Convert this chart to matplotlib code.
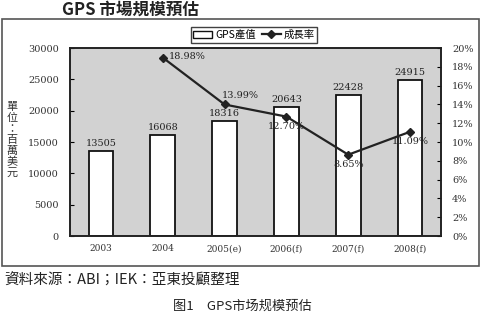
import matplotlib
matplotlib.use("Agg")
import matplotlib.pyplot as plt
from matplotlib.patches import Rectangle
from matplotlib.lines import Line2D

plt.rcParams['font.family'] = ['Noto Sans CJK TC', 'DejaVu Sans']

years = ['2003', '2004', '2005(e)', '2006(f)', '2007(f)', '2008(f)']
values = [13505, 16068, 18316, 20643, 22428, 24915]
growth_years = ['2004', '2005(e)', '2006(f)', '2007(f)', '2008(f)']
growth = [18.98, 13.99, 12.70, 8.65, 11.09]
left_ticks = [0, 5000, 10000, 15000, 20000, 25000, 30000]
right_ticks = [0, 2, 4, 6, 8, 10, 12, 14, 16, 18, 20]

W, H = 500, 333
fig = plt.figure(figsize=(5, 3.33), dpi=100)
fig.patch.set_facecolor('white')

def fx(px):
    return px / W
def fy(py):
    return 1 - py / H

# outer frame
fig.patches.append(Rectangle((fx(2), fy(266)), fx(479) - fx(2), fy(19) - fy(266),
                             transform=fig.transFigure, fill=False,
                             edgecolor='#555555', linewidth=1.2))

ax = fig.add_axes([fx(70), fy(236), fx(441) - fx(70), fy(48) - fy(236)])
ax.set_facecolor('#d2d2d2')
x = list(range(len(years)))
bars = ax.bar(x, values, width=0.4, color='white', edgecolor='#111111', linewidth=1.3)
ax.set_xlim(-0.5, len(years) - 0.5)
ax.set_ylim(0, 30000)
ax.set_yticks(left_ticks)
ax.set_yticklabels([str(v) for v in left_ticks], fontfamily='DejaVu Serif', fontsize=7, color='#333333')
ax.set_xticks(x)
ax.set_xticklabels(years, fontfamily='DejaVu Serif', fontsize=6.5, color='#333333')
ax.tick_params(axis='x', length=0, pad=6)
ax.tick_params(axis='y', length=3, direction='in', pad=8)
for s in ax.spines.values():
    s.set_color('#222222')
    s.set_linewidth(1.2)
for i, v in enumerate(values):
    ax.text(i, v + 500, str(v), ha='center', va='bottom', fontsize=7,
            fontfamily='DejaVu Serif', color='#222222')

ax2 = ax.twinx()
ax2.set_ylim(0, 20)
ax2.set_yticks(right_ticks)
ax2.set_yticklabels([f'{v}%' for v in right_ticks], fontfamily='DejaVu Serif', fontsize=7, color='#333333')
ax2.tick_params(axis='y', length=3, direction='in', pad=8)
gx = [years.index(y) for y in growth_years]
ax2.plot(gx, growth, color='#222222', linewidth=1.6, marker='D', markersize=4)
offsets = [(0.1, 0.1, 'left', 'center'),
           (-0.05, 0.5, 'left', 'bottom'),
           (0.0, -0.6, 'center', 'top'),
           (0.0, -0.6, 'center', 'top'),
           (0.0, -0.6, 'center', 'top')]
for xi, g, (dx, dy, ha, va) in zip(gx, growth, offsets):
    ax2.text(xi + dx, g + dy, f'{g:.2f}%', ha=ha, va=va, fontsize=7,
             fontfamily='DejaVu Serif', color='#222222')
for s in ax2.spines.values():
    s.set_color('#222222')
    s.set_linewidth(1.2)

handles = [Rectangle((0, 0), 1, 1, facecolor='white', edgecolor='#111111'),
           Line2D([0], [0], color='#222222', marker='D', markersize=4, linewidth=1.6)]
leg = fig.legend(handles, ['GPS產值', '成長率'], loc='center',
                 bbox_to_anchor=(fx(254), fy(35)), ncol=2, fontsize=7.5,
                 frameon=True, fancybox=False, edgecolor='#111111',
                 handlelength=1.8, handletextpad=0.3, columnspacing=0.6,
                 borderpad=0.25)
leg.get_frame().set_linewidth(1.0)

fig.text(fx(62), fy(15), 'GPS 市場規模預估', fontsize=12, fontweight='bold',
         ha='left', va='baseline', color='#222222')
fig.text(fx(12), fy(140), '單\n位\n：\n百\n萬\n美\n元', fontsize=8,
         ha='center', va='center', linespacing=1.1, color='#333333')
fig.text(fx(4), fy(281), '資料來源：ABI；IEK：亞東投顧整理', fontsize=10.5,
         ha='left', va='center', color='#222222')
fig.text(fx(242), fy(306), '图1　GPS市场规模预估', fontsize=9.5,
         ha='center', va='center', color='#222222',
         family=['Noto Sans CJK SC', 'DejaVu Sans'])

fig.savefig('out.png', dpi=100)
